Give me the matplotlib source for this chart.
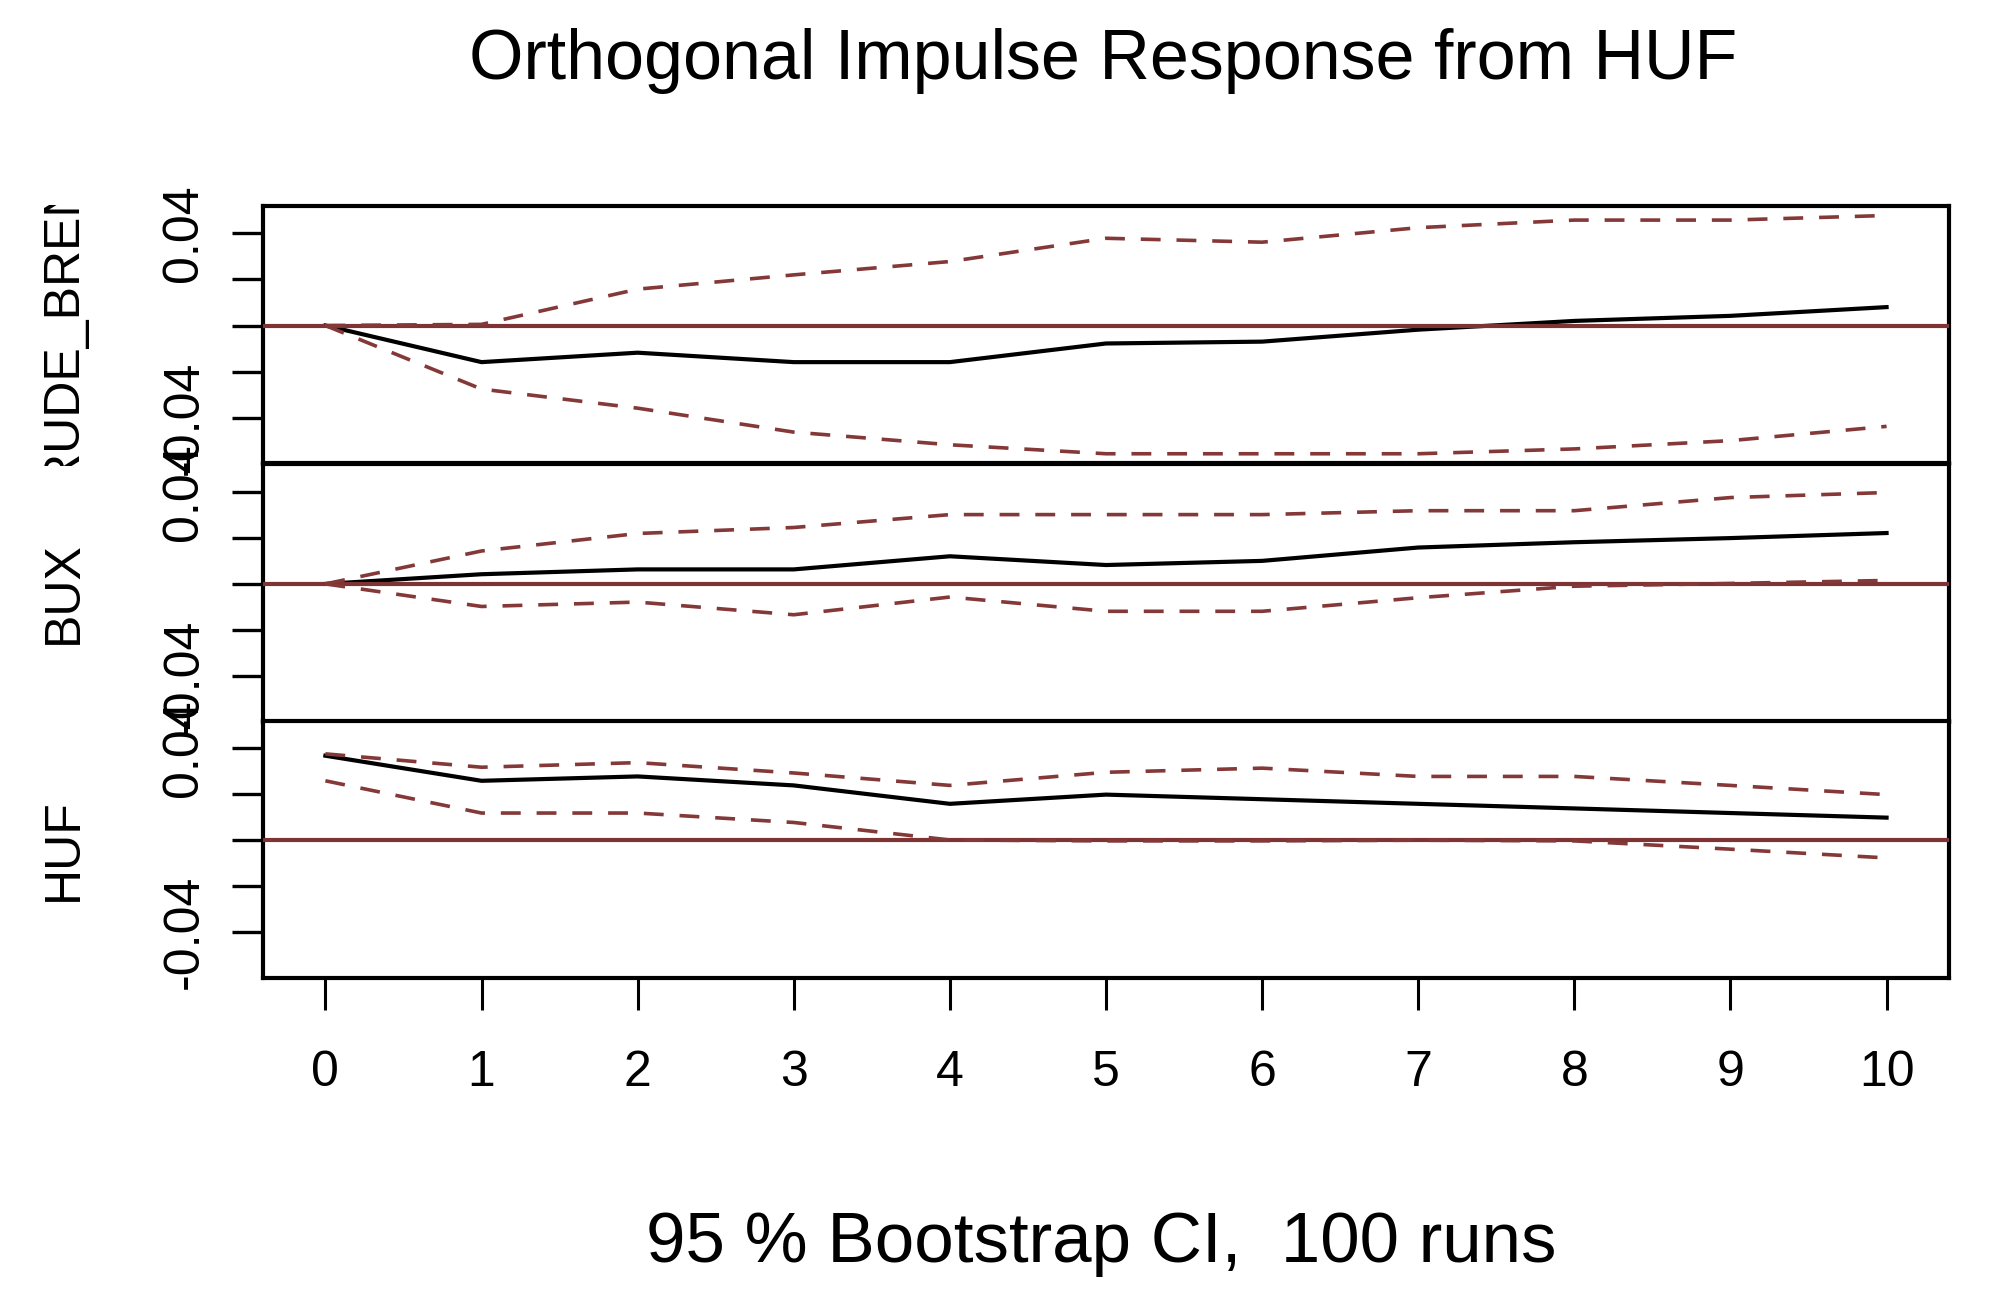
import matplotlib
matplotlib.use("Agg")
import matplotlib.pyplot as plt
from matplotlib.transforms import Bbox, TransformedBbox

plt.rcParams['font.family'] = ['Liberation Sans', 'DejaVu Sans']

steps = list(range(11))

# response of CRUDE_BRENT, BUX and HUF to an orthogonal HUF shock
crude_irf   = [0, -0.0159, -0.0118, -0.0159, -0.0159, -0.0078, -0.0070, -0.0018, 0.0020, 0.0042, 0.0080]
crude_upper = [0, 0.0005, 0.0158, 0.0220, 0.0278, 0.0379, 0.0362, 0.0425, 0.0458, 0.0458, 0.0478]
crude_lower = [0, -0.0276, -0.0359, -0.0463, -0.0518, -0.0557, -0.0557, -0.0557, -0.0536, -0.0500, -0.0438]

bux_irf   = [0, 0.0042, 0.0063, 0.0063, 0.0120, 0.0082, 0.0100, 0.0158, 0.0181, 0.0199, 0.0221]
bux_upper = [0, 0.0143, 0.0219, 0.0245, 0.0301, 0.0301, 0.0301, 0.0318, 0.0318, 0.0375, 0.0397]
bux_lower = [0, -0.0098, -0.0079, -0.0134, -0.0057, -0.0119, -0.0119, -0.0060, -0.0010, 0.0002, 0.0015]

huf_irf   = [0.0367, 0.0258, 0.0277, 0.0238, 0.0158, 0.0198, 0.0178, 0.0158, 0.0138, 0.0118, 0.0098]
huf_upper = [0.0375, 0.0317, 0.0337, 0.0292, 0.0238, 0.0295, 0.0313, 0.0277, 0.0277, 0.0238, 0.0198]
huf_lower = [0.0258, 0.0118, 0.0118, 0.0077, 0.0001, -0.0003, -0.0003, 0.0000, -0.0003, -0.0039, -0.0077]

var_names = ['CRUDE_BRENT', 'BUX', 'HUF']
yticks = [-0.04, -0.02, 0, 0.02, 0.04]
ytick_labels = ['-0.04', '', '', '', '0.04']

title = 'Orthogonal Impulse Response from HUF'
subtitle = '95 % Bootstrap CI,  100 runs'

panels = [(crude_irf, crude_upper, crude_lower),
          (bux_irf, bux_upper, bux_lower),
          (huf_irf, huf_upper, huf_lower)]

ci_col = '#843838'
zero_col = '#7e3434'

# common y range, R style 4% padding
allv = [v for p in panels for s in p for v in s]
lo, hi = min(allv), max(allv)
pad = 0.04 * (hi - lo)
ylim = (lo - pad, hi + pad)

fig = plt.figure(figsize=(19.89, 13.01), dpi=100)

left, width, h = 0.1322, 0.8477, 0.1978
bottoms = [0.6439, 0.4453, 0.2483]

for i, (irf, up, low) in enumerate(panels):
    ax = fig.add_axes([left, bottoms[i], width, h])
    ax.plot(steps, irf, color='black', lw=3.0, zorder=2)
    ax.axhline(0, color=zero_col, lw=3.0, zorder=3)
    ax.plot(steps, up, color=ci_col, lw=2.6, dashes=(5.5, 4.4), zorder=4)
    ax.plot(steps, low, color=ci_col, lw=2.6, dashes=(5.5, 4.4), zorder=4)
    ax.set_xlim(-0.4, 10.4)
    ax.set_ylim(*ylim)
    for sp in ax.spines.values():
        sp.set_linewidth(3.0)
    ax.set_yticks(yticks)
    ax.set_yticklabels(ytick_labels, rotation=90, va='center', fontsize=36)
    ax.tick_params(axis='y', length=22, width=2.4, pad=18)
    if i < 2:
        ax.tick_params(axis='x', bottom=False, labelbottom=False)
    else:
        ax.set_xticks(steps)
        ax.tick_params(axis='x', length=23, width=2.2, pad=29, labelsize=36)

    yc = bottoms[i] + h / 2
    t = fig.text(0.0322, yc, var_names[i], rotation=90, ha='center', va='center', fontsize=36)
    clip = TransformedBbox(Bbox([[0, bottoms[i] - 0.002], [0.2, bottoms[i] + h + 0.001]]), fig.transFigure)
    t.set_clip_box(clip)
    t.set_clip_on(True)

fig.text(0.5546, 0.9393, title, ha='center', va='baseline', fontsize=50.4)
fig.text(0.5538, 0.030, subtitle, ha='center', va='baseline', fontsize=51)

fig.savefig('out.png', dpi=100)
